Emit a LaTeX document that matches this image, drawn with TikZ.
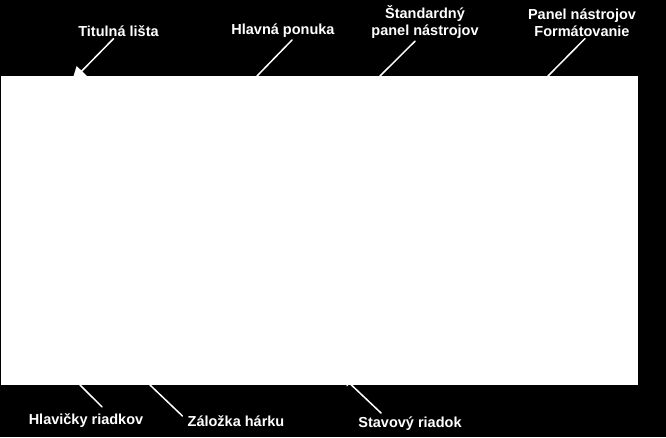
\documentclass[tikz,border=0pt]{standalone}
\usepackage{fontspec}
\setmainfont{Liberation Sans}
\usetikzlibrary{arrows.meta}

\begin{document}
\begin{tikzpicture}[line cap=round,line join=round,x=1pt,y=-1pt
  ,popis/.style={text=white,font=\bfseries\fontsize{14.5}{17}\selectfont,align=center,inner sep=1pt}
  ,ciara/.style={draw=white,line width=1.5pt}]
  \useasboundingbox (0,0) rectangle (666,437);
  \fill[black] (0,0) rectangle (666,437);
  % popisy
  \node[popis] (titulka) at (118.5,31) {Titulná lišta};
  \node[popis] (ponuka) at (283,31) {Hlavná ponuka};
  \node[popis] (standard) at (425,22.5) {Štandardný\\panel nástrojov};
  \node[popis] (format) at (582,22.5) {Panel nástrojov\\Formátovanie};
  \node[popis] (hlavicky) at (86,421) {Hlavičky riadkov};
  \node[popis] (zalozka) at (236,421) {Záložka hárku};
  \node[popis] (stav) at (410,424) {Stavový riadok};
  % body na okne
  \coordinate (t-cil) at (72,81);
  \coordinate (p-cil) at (257,76);
  \coordinate (s-cil) at (380,76);
  \coordinate (f-cil) at (548,76);
  \coordinate (h-cil) at (80,385);
  \coordinate (z-cil) at (150,385);
  \coordinate (st-cil) at (344,378);
  % ciary
  \draw[ciara,-{Triangle[width=14pt,length=14pt]}] ([xshift=-5pt,yshift=-1pt]titulka.south) -- (t-cil);
  \draw[ciara] ([xshift=9pt,yshift=-1pt]ponuka.south) -- (p-cil);
  \draw[ciara] ([xshift=-10pt,yshift=-1pt]standard.south) -- (s-cil);
  \draw[ciara] ([xshift=3pt,yshift=-1pt]format.south) -- (f-cil);
  \draw[ciara,-{Triangle[width=8pt,length=8pt]}] ([xshift=-29pt,yshift=3pt]stav.north) -- (st-cil);
  % okno
  \node[fill=white,draw=none,inner sep=0,minimum width=637,minimum height=309,anchor=north west] (okno) at (1,76) {};
  \draw[ciara] ([xshift=16pt,yshift=6pt]hlavicky.north) -- (h-cil);
  \draw[ciara] ([xshift=-4pt,yshift=5pt]zalozka.west) -- (z-cil);
\end{tikzpicture}
\end{document}
